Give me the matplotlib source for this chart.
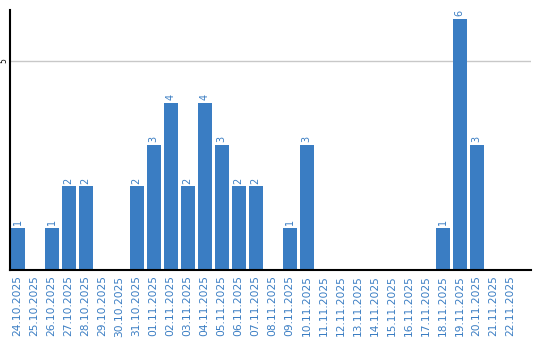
import matplotlib
matplotlib.use("Agg")
import matplotlib.pyplot as plt

dates = ["24.10.2025", "25.10.2025", "26.10.2025", "27.10.2025", "28.10.2025",
         "29.10.2025", "30.10.2025", "31.10.2025", "01.11.2025", "02.11.2025",
         "03.11.2025", "04.11.2025", "05.11.2025", "06.11.2025", "07.11.2025",
         "08.11.2025", "09.11.2025", "10.11.2025", "11.11.2025", "12.11.2025",
         "13.11.2025", "14.11.2025", "15.11.2025", "16.11.2025", "17.11.2025",
         "18.11.2025", "19.11.2025", "20.11.2025", "21.11.2025", "22.11.2025"]
counts = [1, 0, 1, 2, 2, 0, 0, 2, 3, 4, 2, 4, 3, 2, 2, 0, 1, 3,
          0, 0, 0, 0, 0, 0, 0, 1, 6, 3, 0, 0]

blue = "#3a7dc3"

fig = plt.figure(figsize=(5.4, 3.4), dpi=100)
ax = fig.add_axes([10/540, 70/340, 521/540, 260/340])

x = list(range(len(dates)))
ax.bar(x, counts, width=14/17, color=blue, zorder=2)
for xi, v in zip(x, counts):
    if v > 0:
        ax.annotate(str(v), (xi, v), xytext=(0, 2), textcoords="offset points",
                    rotation=90, ha="center", va="bottom", color=blue, fontsize=7)

ax.set_xlim(-0.45, 30.2)
ax.set_ylim(0, 6.22)
ax.set_yticks([5])
ax.set_yticklabels(["5"], rotation=90, va="center", fontsize=5.5)
ax.yaxis.grid(True, color="#c8c8c8", linewidth=1, zorder=0)
ax.tick_params(axis="y", length=0, pad=1)
ax.set_xticks(x)
ax.set_xticklabels(dates, rotation=90, fontsize=7.7, color=blue)
ax.tick_params(axis="x", length=0, pad=4)

for s in ["top", "right"]:
    ax.spines[s].set_visible(False)
ax.spines["left"].set_linewidth(1.5)
ax.spines["bottom"].set_linewidth(1.5)

fig.savefig("out.png", dpi=100)
